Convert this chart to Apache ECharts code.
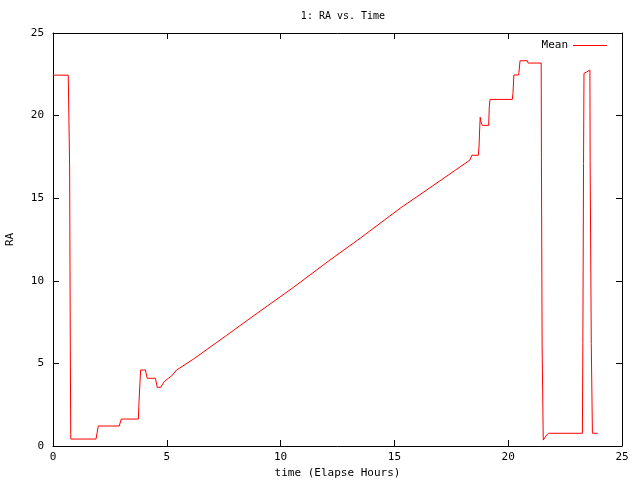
<!DOCTYPE html>
<html>
<head>
<meta charset="utf-8">
<script src="https://cdn.jsdelivr.net/npm/echarts@6/dist/echarts.min.js"></script>
<style>
  html, body { margin: 0; padding: 0; background: #fff; }
  #chart { width: 640px; height: 480px; }
</style>
</head>
<body>
<div id="chart"></div>
<script>
// elapsed time (hours) and mean RA
const timeHours = [
  0, 0.67, 0.73, 0.76, 0.78, 1.89, 1.99, 2.91, 3.0, 3.75,
  3.77, 3.82, 3.85, 4.06, 4.14, 4.5, 4.58, 4.73, 4.88, 5.07,
  5.21, 5.43, 6.16, 7.63, 8.66, 10.56, 12.17, 13.49, 15.25, 16.42,
  17.0, 18.32, 18.40, 18.69, 18.72, 18.75, 18.77, 18.80, 18.86, 19.14,
  19.17, 19.20, 20.18, 20.21, 20.25, 20.45, 20.47, 20.52, 20.84, 20.88,
  21.45, 21.46, 21.49, 21.54, 21.62, 21.69, 21.78, 23.26, 23.28, 23.31,
  23.33, 23.45, 23.59, 23.60, 23.65, 23.70, 23.93
];
const raMean = [
  22.45, 22.45, 16.95, 5.97, 0.42, 0.42, 1.21, 1.21, 1.63, 1.63,
  2.38, 3.83, 4.6, 4.6, 4.1, 4.1, 3.55, 3.55, 3.89, 4.1,
  4.24, 4.6, 5.25, 6.7, 7.73, 9.6, 11.26, 12.57, 14.39, 15.5,
  16.05, 17.31, 17.6, 17.6, 18.16, 19.33, 19.9, 19.63, 19.41, 19.41,
  20.54, 20.98, 20.98, 21.35, 22.46, 22.46, 22.6, 23.32, 23.32, 23.18,
  23.18, 17.45, 6.07, 0.36, 0.4, 0.67, 0.77, 0.77, 6.19, 17.1,
  22.56, 22.64, 22.76, 17.27, 6.21, 0.77, 0.77
];
const xTicks = [0, 5, 10, 15, 20, 25];
const yTicks = [0, 5, 10, 15, 20, 25];

const chart = echarts.init(document.getElementById('chart'), null, { renderer: 'canvas' });

const font = 'DejaVu Sans Mono';
const frameLine = { show: true, onZero: false, lineStyle: { color: '#000', width: 1 } };
const innerTick = { show: true, inside: true, length: 6, lineStyle: { color: '#000' } };

const option = {
  backgroundColor: '#fff',
  animation: false,
  textStyle: { fontFamily: font, color: '#000' },
  title: {
    text: '1: RA vs. Time',
    left: 338,
    top: 6,
    textAlign: 'center',
    textStyle: { fontFamily: font, fontSize: 10, fontWeight: 'normal', color: '#000' }
  },
  legend: {
    right: 28,
    top: 35,
    align: 'right',
    itemWidth: 34,
    itemHeight: 1,
    itemGap: 8,
    icon: 'rect',
    textStyle: { fontFamily: font, fontSize: 11, color: '#000' },
    data: ['Mean']
  },
  grid: { left: 53, right: 18, top: 33, bottom: 34, outerBoundsMode: 'none', containLabel: false },
  xAxis: [{
    type: 'value',
    min: 0, max: 25, interval: 5,
    name: 'time (Elapse Hours)',
    nameLocation: 'middle',
    nameGap: 22,
    nameTextStyle: { fontFamily: font, fontSize: 11, color: '#000' },
    axisLine: frameLine,
    axisTick: innerTick,
    axisLabel: { fontFamily: font, fontSize: 11, color: '#000', margin: 6,
      formatter: v => xTicks.includes(v) ? String(v) : '' },
    splitLine: { show: false }
  }, {
    type: 'value', position: 'top',
    min: 0, max: 25, interval: 5,
    axisLine: frameLine,
    axisTick: innerTick,
    axisLabel: { show: false },
    splitLine: { show: false }
  }],
  yAxis: [{
    type: 'value',
    min: 0, max: 25, interval: 5,
    name: 'RA',
    nameLocation: 'middle',
    nameGap: 37,
    nameRotate: 90,
    nameTextStyle: { fontFamily: font, fontSize: 11, color: '#000' },
    axisLine: frameLine,
    axisTick: innerTick,
    axisLabel: { fontFamily: font, fontSize: 11, color: '#000', margin: 9,
      formatter: v => yTicks.includes(v) ? String(v) : '' },
    splitLine: { show: false }
  }, {
    type: 'value', position: 'right',
    min: 0, max: 25, interval: 5,
    axisLine: frameLine,
    axisTick: innerTick,
    axisLabel: { show: false },
    splitLine: { show: false }
  }],
  series: [{
    name: 'Mean',
    type: 'line',
    xAxisIndex: 0,
    yAxisIndex: 0,
    data: timeHours.map((t, i) => [t, raMean[i]]),
    showSymbol: false,
    symbol: 'none',
    color: '#ff0000',
    lineStyle: { color: '#ff0000', width: 1 }
  }]
};

chart.setOption(option);
</script>
</body>
</html>
